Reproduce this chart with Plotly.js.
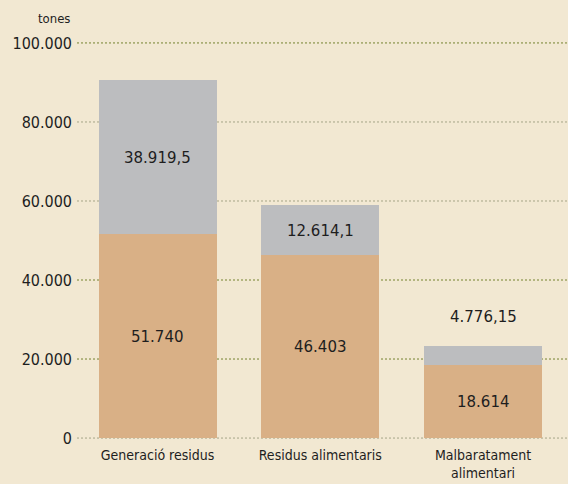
<!DOCTYPE html>
<html>
<head>
<meta charset="utf-8">
<script src="https://cdn.plot.ly/plotly-3.0.1.min.js"></script>
<style>html,body{margin:0;padding:0;background:#f2e8d2;}#chart{width:568px;height:484px;}</style>
</head>
<body>
<div id="chart"></div>
<script>
const categories = ['Generació residus', 'Residus alimentaris', 'Malbaratament<br>alimentari'];
const baseValues = [51740, 46403, 18614];
const topValues = [38919.5, 12614.1, 4776.15];
const baseLabels = ['51.740', '46.403', '18.614'];
const topLabels = ['38.919,5', '12.614,1', '4.776,15'];
const topLabelInside = [true, true, false];
const tickVals = [0, 20000, 40000, 60000, 80000, 100000];
const tickText = ['0', '20.000', '40.000', '60.000', '80.000', '100.000'];
const unitLabel = 'tones';

// style only: gridline colour per tick
const gridColors = ['#a5a487', '#74822f', '#74822f', '#a5a487', '#a5a487', '#74822f'];

const xIdx = categories.map((c, i) => i);
const labelFont = {family: 'DejaVu Sans, sans-serif', size: 15, color: '#1e1e1e'};
const condensed = 'Liberation Sans Narrow, DejaVu Sans Condensed, Arial Narrow, sans-serif';

const traces = [
  {type: 'bar', x: xIdx, y: baseValues, marker: {color: '#d9b086'}, width: 0.725, hoverinfo: 'skip'},
  {type: 'bar', x: xIdx, y: topValues, marker: {color: '#bcbdbf'}, width: 0.725, hoverinfo: 'skip'}
];

const annotations = [];
xIdx.forEach(i => {
  annotations.push({x: i, y: baseValues[i] / 2, text: baseLabels[i], showarrow: false, font: labelFont, xref: 'x', yref: 'y', yshift: -1});
  if (topLabelInside[i]) {
    annotations.push({x: i, y: baseValues[i] + topValues[i] / 2, text: topLabels[i], showarrow: false, font: labelFont, xref: 'x', yref: 'y', yshift: -1});
  } else {
    annotations.push({x: i, y: baseValues[i] + topValues[i], text: topLabels[i], showarrow: false, font: labelFont, xref: 'x', yref: 'y', yanchor: 'bottom', yshift: 18});
  }
});
annotations.push({x: 72, y: 19, xref: 'pixel', yref: 'pixel', text: unitLabel, showarrow: false, font: {family: condensed, size: 13, color: '#1e1e1e'}});

const shapes = tickVals.map((v, i) => ({
  type: 'line', xref: 'paper', yref: 'y', x0: 0, x1: 1, y0: v, y1: v, layer: 'below',
  line: {color: gridColors[i], width: 1, dash: '2px,2px'}
}));

const M = {l: 77, r: 0, t: 39, b: 42};
const layout = {
  width: 568, height: 484,
  paper_bgcolor: '#f2e8d2', plot_bgcolor: 'rgba(0,0,0,0)',
  barmode: 'stack', showlegend: false,
  margin: M,
  xaxis: {
    range: [-0.495, 2.522], tickvals: xIdx, ticktext: categories,
    showgrid: false, zeroline: false, showline: false, ticks: '', ticklabelstandoff: 3,
    tickfont: {family: condensed, size: 14, color: '#1e1e1e'}, fixedrange: true
  },
  yaxis: {
    range: [-1000, 101000], tickvals: tickVals, ticktext: tickText,
    showgrid: false, zeroline: false, showline: false, ticks: '', ticklabelstandoff: 4,
    tickfont: {family: condensed, size: 16, color: '#1e1e1e'}, fixedrange: true
  },
  shapes: shapes,
  annotations: annotations
};
annotations.forEach(a => {
  if (a.xref === 'pixel') {
    a.xref = 'paper'; a.yref = 'paper';
    const pw = 568 - M.l - M.r, ph = 484 - M.t - M.b;
    a.x = (a.x - M.l) / pw; a.y = 1 + (M.t - a.y) / ph;
    a.xanchor = 'right'; a.yanchor = 'middle';
  }
});
Plotly.newPlot('chart', traces, layout, {displayModeBar: false, staticPlot: true});
</script>
</body>
</html>
